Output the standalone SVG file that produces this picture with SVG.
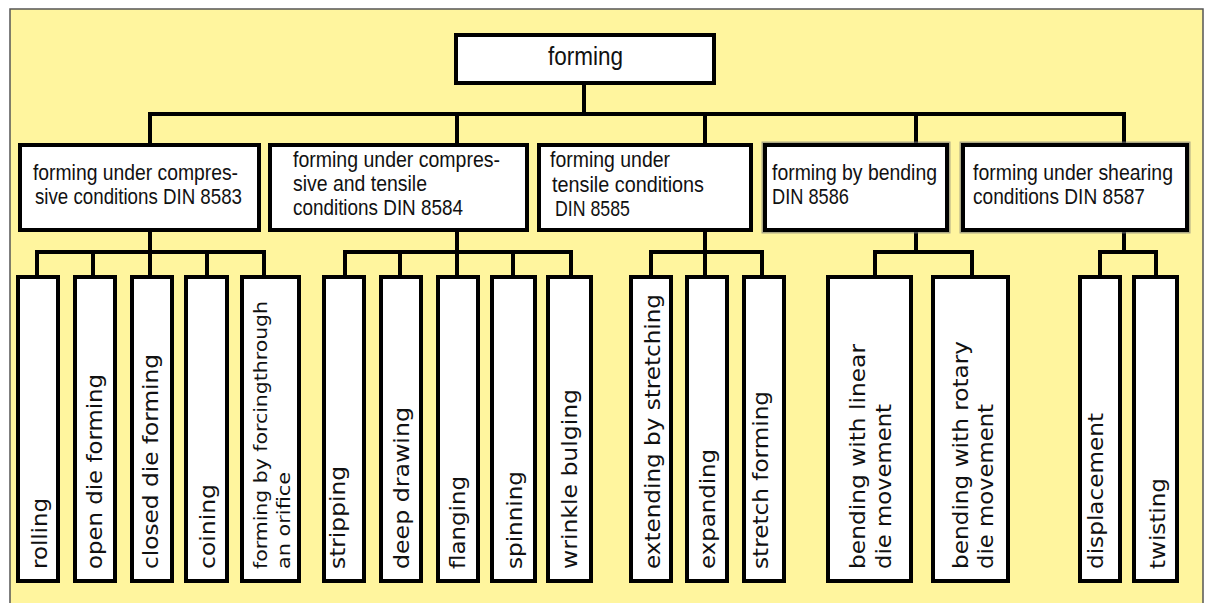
<svg xmlns="http://www.w3.org/2000/svg" width="1208" height="603" viewBox="0 0 1208 603">
<style>
.bx{fill:#fff;stroke:#000;stroke-width:4}
.sh{fill:none;stroke:#777;stroke-width:7;opacity:0.6}
.ln{fill:none;stroke:#000;stroke-width:4;stroke-linecap:square}
.ct{font-family:"Liberation Sans",Arial,sans-serif;font-size:22px;fill:#111}
.rt{font-family:"Liberation Sans",Arial,sans-serif;font-size:26px;fill:#111}
.lt{font-family:"DejaVu Sans",Verdana,sans-serif;font-size:21px;fill:#111}
.lt2{font-family:"DejaVu Sans",Verdana,sans-serif;font-size:18px;fill:#111}
</style>
<rect x="0" y="0" width="1208" height="603" fill="#fff"/>
<rect x="10" y="9" width="1193" height="600" fill="#fff59e" stroke="#555" stroke-width="1.5"/>

<g id="connectors">
<path class="ln" d="M584 83V114M150 114H1124M150 114V145M457 114V145M705 114V145M916 114V145M1124 114V145"/>
<path class="ln" d="M150 230V277M37 252H264M37 252V277M93 252V277M207 252V277M264 252V277"/>
<path class="ln" d="M457 230V277M345 252H571M345 252V277M400 252V277M513 252V277M571 252V277"/>
<path class="ln" d="M705 230V277M651 252H762M651 252V277M762 252V277"/>
<path class="ln" d="M916 230V252M875 252H972M875 252V277M972 252V277"/>
<path class="ln" d="M1124 230V252M1100 252H1156M1100 252V277M1156 252V277"/>
</g>

<g id="n-forming">
<rect class="bx" x="456" y="35" width="258" height="48"/>
<text class="rt" x="548" y="65" textLength="75" lengthAdjust="spacingAndGlyphs">forming</text>
</g>

<g id="n-din8583">
<rect class="bx" x="20" y="145" width="239" height="85"/>
<text class="ct" x="33" y="180" textLength="205" lengthAdjust="spacingAndGlyphs">forming under compres-</text>
<text class="ct" x="35" y="204" textLength="207" lengthAdjust="spacingAndGlyphs">sive conditions DIN 8583</text>
</g>

<g id="n-din8584">
<rect class="bx" x="270" y="145" width="257" height="85"/>
<text class="ct" x="293" y="167" textLength="207" lengthAdjust="spacingAndGlyphs">forming under compres-</text>
<text class="ct" x="293" y="191" textLength="134" lengthAdjust="spacingAndGlyphs">sive and tensile</text>
<text class="ct" x="293" y="215" textLength="170" lengthAdjust="spacingAndGlyphs">conditions DIN 8584</text>
</g>

<g id="n-din8585">
<rect class="bx" x="539" y="145" width="212" height="85"/>
<text class="ct" x="550" y="167" textLength="120" lengthAdjust="spacingAndGlyphs">forming under</text>
<text class="ct" x="552" y="192" textLength="152" lengthAdjust="spacingAndGlyphs">tensile conditions</text>
<text class="ct" x="555" y="216" textLength="75" lengthAdjust="spacingAndGlyphs">DIN 8585</text>
</g>

<g id="n-din8586">
<rect class="sh" x="765" y="145" width="182" height="85"/>
<rect class="bx" x="765" y="145" width="182" height="85"/>
<text class="ct" x="772" y="180" textLength="165" lengthAdjust="spacingAndGlyphs">forming by bending</text>
<text class="ct" x="772" y="204" textLength="77" lengthAdjust="spacingAndGlyphs">DIN 8586</text>
</g>

<g id="n-din8587">
<rect class="sh" x="963" y="145" width="224" height="85"/>
<rect class="bx" x="963" y="145" width="224" height="85"/>
<text class="ct" x="973" y="180" textLength="200" lengthAdjust="spacingAndGlyphs">forming under shearing</text>
<text class="ct" x="973" y="204" textLength="172" lengthAdjust="spacingAndGlyphs">conditions DIN 8587</text>
</g>

<g id="n-rolling">
<rect class="bx" x="18" y="277" width="40" height="304"/>
<text class="lt" transform="translate(47 569) rotate(-90)" textLength="71" lengthAdjust="spacingAndGlyphs">rolling</text>
</g>
<g id="n-open-die">
<rect class="bx" x="75" y="277" width="40" height="304"/>
<text class="lt" transform="translate(102 569) rotate(-90)" textLength="195" lengthAdjust="spacingAndGlyphs">open die forming</text>
</g>
<g id="n-closed-die">
<rect class="bx" x="132" y="277" width="40" height="304"/>
<text class="lt" transform="translate(158 569) rotate(-90)" textLength="215" lengthAdjust="spacingAndGlyphs">closed die forming</text>
</g>
<g id="n-coining">
<rect class="bx" x="186" y="277" width="41" height="304"/>
<text class="lt" transform="translate(215 569) rotate(-90)" textLength="85" lengthAdjust="spacingAndGlyphs">coining</text>
</g>
<g id="n-forcing">
<rect class="bx" x="242" y="277" width="57" height="304"/>
<text class="lt2" transform="translate(267 569) rotate(-90)" textLength="268" lengthAdjust="spacingAndGlyphs">forming by forcingthrough</text>
<text class="lt2" transform="translate(290 569) rotate(-90)" textLength="97" lengthAdjust="spacingAndGlyphs">an orifice</text>
</g>

<g id="n-stripping">
<rect class="bx" x="324" y="277" width="40" height="304"/>
<text class="lt" transform="translate(345 569) rotate(-90)" textLength="103" lengthAdjust="spacingAndGlyphs">stripping</text>
</g>
<g id="n-deep-drawing">
<rect class="bx" x="381" y="277" width="40" height="304"/>
<text class="lt" transform="translate(409 569) rotate(-90)" textLength="162" lengthAdjust="spacingAndGlyphs">deep drawing</text>
</g>
<g id="n-flanging">
<rect class="bx" x="438" y="277" width="40" height="304"/>
<text class="lt" transform="translate(465 569) rotate(-90)" textLength="93" lengthAdjust="spacingAndGlyphs">flanging</text>
</g>
<g id="n-spinning">
<rect class="bx" x="492" y="277" width="43" height="304"/>
<text class="lt" transform="translate(522 569) rotate(-90)" textLength="98" lengthAdjust="spacingAndGlyphs">spinning</text>
</g>
<g id="n-wrinkle">
<rect class="bx" x="548" y="277" width="43" height="304"/>
<text class="lt" transform="translate(577 569) rotate(-90)" textLength="180" lengthAdjust="spacingAndGlyphs">wrinkle bulging</text>
</g>

<g id="n-extending">
<rect class="bx" x="631" y="277" width="40" height="304"/>
<text class="lt" transform="translate(660 569) rotate(-90)" textLength="275" lengthAdjust="spacingAndGlyphs">extending by stretching</text>
</g>
<g id="n-expanding">
<rect class="bx" x="687" y="277" width="40" height="304"/>
<text class="lt" transform="translate(715 569) rotate(-90)" textLength="120" lengthAdjust="spacingAndGlyphs">expanding</text>
</g>
<g id="n-stretch-forming">
<rect class="bx" x="744" y="277" width="40" height="304"/>
<text class="lt" transform="translate(768 569) rotate(-90)" textLength="178" lengthAdjust="spacingAndGlyphs">stretch forming</text>
</g>

<g id="n-bend-linear">
<rect class="bx" x="828" y="277" width="83" height="304"/>
<text class="lt" transform="translate(865 569) rotate(-90)" textLength="225" lengthAdjust="spacingAndGlyphs">bending with linear</text>
<text class="lt" transform="translate(891 569) rotate(-90)" textLength="165" lengthAdjust="spacingAndGlyphs">die movement</text>
</g>
<g id="n-bend-rotary">
<rect class="bx" x="933" y="277" width="75" height="304"/>
<text class="lt" transform="translate(968 569) rotate(-90)" textLength="228" lengthAdjust="spacingAndGlyphs">bending with rotary</text>
<text class="lt" transform="translate(993 569) rotate(-90)" textLength="165" lengthAdjust="spacingAndGlyphs">die movement</text>
</g>

<g id="n-displacement">
<rect class="bx" x="1080" y="277" width="40" height="304"/>
<text class="lt" transform="translate(1103 569) rotate(-90)" textLength="156" lengthAdjust="spacingAndGlyphs">displacement</text>
</g>
<g id="n-twisting">
<rect class="bx" x="1134" y="277" width="43" height="304"/>
<text class="lt" transform="translate(1165 569) rotate(-90)" textLength="91" lengthAdjust="spacingAndGlyphs">twisting</text>
</g>
</svg>
